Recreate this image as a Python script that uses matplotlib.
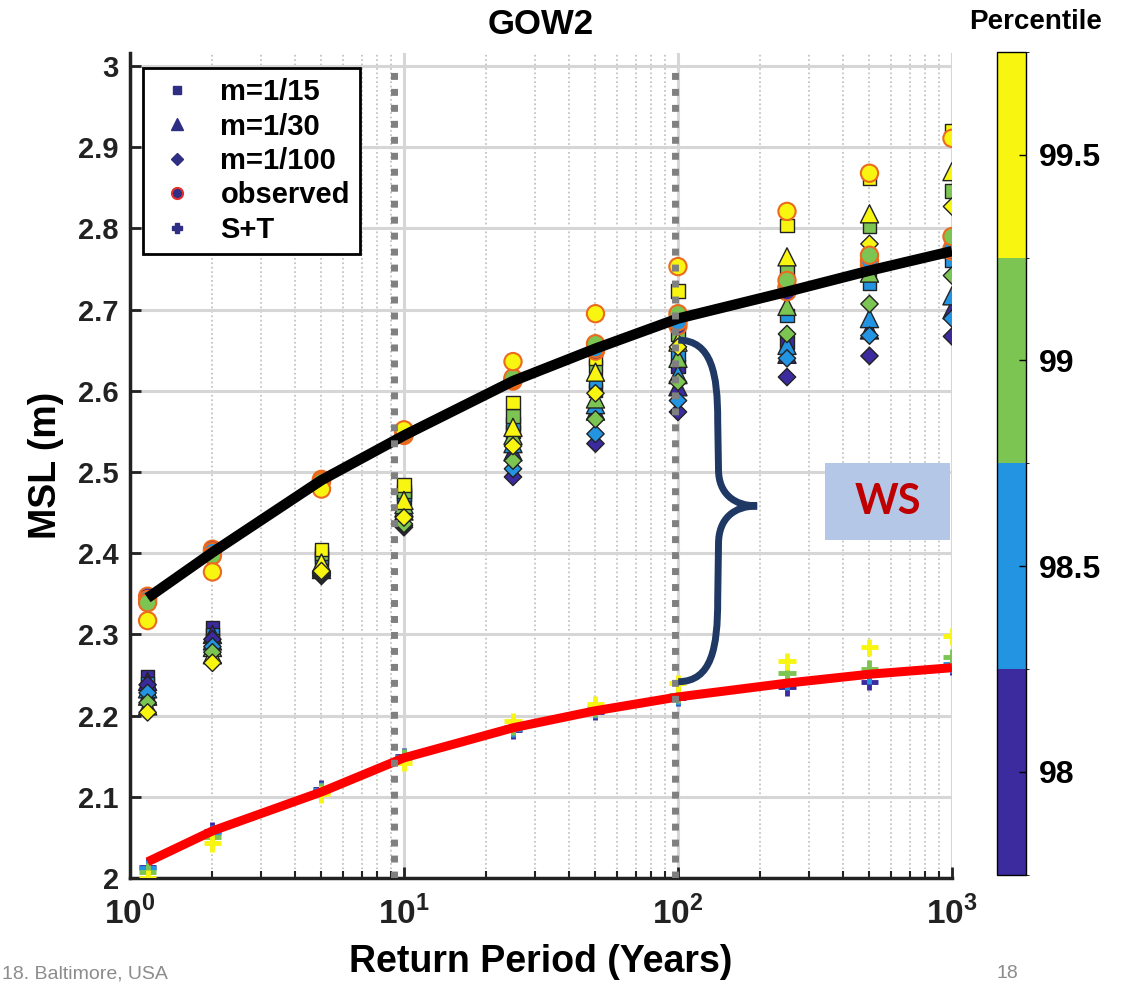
import matplotlib
matplotlib.use('Agg')
import matplotlib.pyplot as plt
from matplotlib.colors import ListedColormap, BoundaryNorm
from matplotlib.cm import ScalarMappable
from matplotlib.path import Path
from matplotlib.patches import PathPatch, Rectangle
from matplotlib.lines import Line2D
import numpy as np

plt.rcParams['font.family'] = ['Liberation Sans', 'DejaVu Sans']
plt.rcParams['font.weight'] = 'bold'
plt.rcParams['mathtext.fontset'] = 'custom'
plt.rcParams['mathtext.rm'] = 'Liberation Sans:bold'
plt.rcParams['mathtext.bf'] = 'Liberation Sans:bold'

# ---- data ----
return_period = [1.16, 2, 5, 10, 25, 50, 100, 250, 500, 1000]
percentiles = [98, 98.5, 99, 99.5]

# one row per percentile (98, 98.5, 99, 99.5), values per return period
msl_m15 = [
    [2.248, 2.308, 2.390, 2.468, 2.550, 2.600, 2.630, 2.660, 2.750, 2.770],
    [2.240, 2.300, 2.395, 2.472, 2.560, 2.612, 2.645, 2.693, 2.732, 2.760],
    [2.232, 2.292, 2.400, 2.476, 2.569, 2.630, 2.670, 2.748, 2.802, 2.846],
    [2.222, 2.285, 2.405, 2.484, 2.586, 2.640, 2.723, 2.804, 2.862, 2.921],
]
msl_m30 = [
    [2.242, 2.300, 2.380, 2.452, 2.525, 2.575, 2.605, 2.645, 2.675, 2.700],
    [2.233, 2.292, 2.383, 2.456, 2.535, 2.583, 2.620, 2.656, 2.689, 2.717],
    [2.224, 2.284, 2.386, 2.460, 2.545, 2.590, 2.640, 2.704, 2.745, 2.775],
    [2.212, 2.275, 2.388, 2.465, 2.555, 2.623, 2.660, 2.765, 2.818, 2.870],
]
msl_m100 = [
    [2.238, 2.294, 2.372, 2.432, 2.494, 2.535, 2.574, 2.617, 2.643, 2.667],
    [2.228, 2.285, 2.374, 2.434, 2.504, 2.547, 2.588, 2.640, 2.668, 2.689],
    [2.216, 2.278, 2.376, 2.436, 2.514, 2.565, 2.611, 2.670, 2.707, 2.742],
    [2.204, 2.265, 2.378, 2.444, 2.532, 2.597, 2.654, 2.728, 2.781, 2.827],
]
msl_obs = [
    [2.347, 2.405, 2.491, 2.545, 2.612, 2.649, 2.680, 2.722, 2.755, 2.772],
    [2.343, 2.402, 2.490, 2.546, 2.614, 2.652, 2.685, 2.728, 2.760, 2.775],
    [2.339, 2.397, 2.488, 2.548, 2.616, 2.658, 2.695, 2.736, 2.767, 2.790],
    [2.317, 2.377, 2.479, 2.552, 2.636, 2.695, 2.753, 2.821, 2.868, 2.911],
]
msl_st = [
    [2.014, 2.058, 2.110, 2.150, 2.182, 2.205, 2.222, 2.235, 2.242, 2.260],
    [2.012, 2.055, 2.108, 2.149, 2.184, 2.207, 2.224, 2.242, 2.250, 2.263],
    [2.008, 2.050, 2.106, 2.148, 2.186, 2.209, 2.226, 2.253, 2.258, 2.272],
    [2.000, 2.043, 2.103, 2.142, 2.193, 2.214, 2.240, 2.267, 2.284, 2.298],
]
fit_total = [2.345, 2.401, 2.490, 2.545, 2.612, 2.652, 2.689, 2.722, 2.748, 2.772]
fit_st = [2.020, 2.058, 2.106, 2.148, 2.185, 2.206, 2.223, 2.240, 2.251, 2.259]

marker_years = [9.2, 97.5]

colors = ['#3b2b9f', '#2394e2', '#7cc552', '#f8f511']
cmap = ListedColormap(colors)
norm = BoundaryNorm([97.75, 98.25, 98.75, 99.25, 99.75], cmap.N)

fig = plt.figure(figsize=(11.29, 9.84), dpi=100)
ax = fig.add_axes([0.1151, 0.1077, 0.7281, 0.8384])
ax.set_xscale('log')

series = [
    (msl_m15, 's', 90, '#222222', 1.0),
    (msl_m30, '^', 170, '#222222', 1.0),
    (msl_m100, 'D', 78, '#222222', 1.0),
    (msl_obs, 'o', 155, '#ec6a1e', 1.5),
]
for vals, mk, size, ec, lw in series:
    for p, row in zip(percentiles, vals):
        ax.scatter(return_period, row, c=[p] * len(row), cmap=cmap, norm=norm,
                   marker=mk, s=size, edgecolors=ec, linewidths=lw, zorder=3)
for p, row in zip(percentiles, msl_st):
    ax.scatter(return_period, row, c=[p] * len(row), cmap=cmap, norm=norm,
               marker='+', s=150, linewidths=3.5, zorder=3)

ax.plot(return_period, fit_total, color='black', lw=7.5, solid_capstyle='butt', zorder=4)
ax.plot(return_period, fit_st, color='#ff0000', lw=6.5, solid_capstyle='butt', zorder=4)

for yr in marker_years:
    ax.plot([yr, yr], [2, 3], color='#808080', lw=5, dashes=(1, 1.3),
            dash_capstyle='butt', zorder=5)

# curly brace (axes fraction)
verts = [(0.667, 0.652), (0.708, 0.652), (0.715, 0.610), (0.715, 0.555),
         (0.716, 0.495),
         (0.716, 0.466), (0.735, 0.451), (0.763, 0.451),
         (0.735, 0.451), (0.716, 0.436), (0.716, 0.405),
         (0.715, 0.337),
         (0.715, 0.280), (0.708, 0.238), (0.667, 0.238)]
codes = [Path.MOVETO, Path.CURVE4, Path.CURVE4, Path.CURVE4,
         Path.LINETO,
         Path.CURVE4, Path.CURVE4, Path.CURVE4,
         Path.CURVE4, Path.CURVE4, Path.CURVE4,
         Path.LINETO,
         Path.CURVE4, Path.CURVE4, Path.CURVE4]
ax.add_patch(PathPatch(Path(verts, codes), transform=ax.transAxes, fill=False,
                       edgecolor='#1f3864', lw=5, capstyle='butt', zorder=6))

ax.add_patch(Rectangle((0.8455, 0.4097), 0.152, 0.0933, transform=ax.transAxes,
                       facecolor='#b4c7e7', edgecolor='none', zorder=6))
ax.text(0.9215, 0.456, 'WS', transform=ax.transAxes, ha='center', va='center',
        color='#c00000', fontsize=30, fontweight='bold', family='Lato', zorder=7)

ax.set_xlim(1, 1000)
ax.set_ylim(2, 3.016)
ax.set_yticks(np.arange(2, 3.01, 0.1))
ax.set_yticklabels(['2', '2.1', '2.2', '2.3', '2.4', '2.5', '2.6', '2.7', '2.8', '2.9', '3'])
ax.set_xticks([1, 10, 100, 1000])
ax.set_xticklabels([r'$10^{0}$', r'$10^{1}$', r'$10^{2}$', r'$10^{3}$'])

ax.grid(which='major', color='#d6d6d6', lw=2.2, ls='-', zorder=0)
ax.grid(which='minor', axis='x', color='#bcbcbc', lw=1.2, ls=':', zorder=0)
ax.set_axisbelow(True)
ax.tick_params(which='major', direction='in', length=8, width=2, colors='#222222')
ax.tick_params(which='minor', direction='in', length=5, width=1.5, colors='#222222')
ax.tick_params(axis='y', labelsize=21, pad=8)
ax.tick_params(axis='x', labelsize=24, pad=13)
ax.tick_params(axis='y', which='minor', left=False)
for s in ['top', 'right']:
    ax.spines[s].set_visible(False)
for s in ['left', 'bottom']:
    ax.spines[s].set_linewidth(2.5)
    ax.spines[s].set_color('#222222')

ax.set_xlabel('Return Period (Years)', fontsize=27, fontweight='bold', labelpad=9)
ax.set_ylabel('MSL (m)', fontsize=27, fontweight='bold', labelpad=10)
ax.set_title('GOW2', fontsize=25, fontweight='bold', pad=14)

navy = '#2e2e84'
handles = [
    Line2D([], [], ls='none', marker='s', ms=6, color=navy),
    Line2D([], [], ls='none', marker='^', ms=8, color=navy),
    Line2D([], [], ls='none', marker='D', ms=6, color=navy),
    Line2D([], [], ls='none', marker='o', ms=8, color=navy, mec='#e03030', mew=1.5),
    Line2D([], [], ls='none', marker='P', ms=7, color=navy),
]
leg = ax.legend(handles, ['m=1/15', 'm=1/30', 'm=1/100', 'observed', 'S+T'],
                loc='upper left', bbox_to_anchor=(0.016, 0.982), borderaxespad=0,
                fontsize=21, fancybox=False, framealpha=1, edgecolor='black',
                handlelength=1.6, handletextpad=0.7, labelspacing=0.22,
                borderpad=0.35)
leg.get_frame().set_linewidth(2)
leg.set_zorder(10)

cax = fig.add_axes([0.8831, 0.111, 0.0257, 0.8364])
cb = fig.colorbar(ScalarMappable(norm=norm, cmap=cmap), cax=cax, ticks=percentiles)
cb.ax.set_yticklabels(['98', '98.5', '99', '99.5'])
cb.ax.tick_params(direction='in', length=5, width=1, labelsize=23, pad=9)
cb.outline.set_linewidth(1)
fig.text(0.917, 0.978, 'Percentile', ha='center', va='center', fontsize=20, fontweight='bold')

fig.text(0.002, 0.002, '18. Baltimore, USA', ha='left', va='bottom', fontsize=14,
         color='#8c8c8c', fontweight='normal')
fig.text(0.883, 0.002, '18', ha='left', va='bottom', fontsize=14,
         color='#8c8c8c', fontweight='normal')

fig.savefig('out.png', dpi=100)
